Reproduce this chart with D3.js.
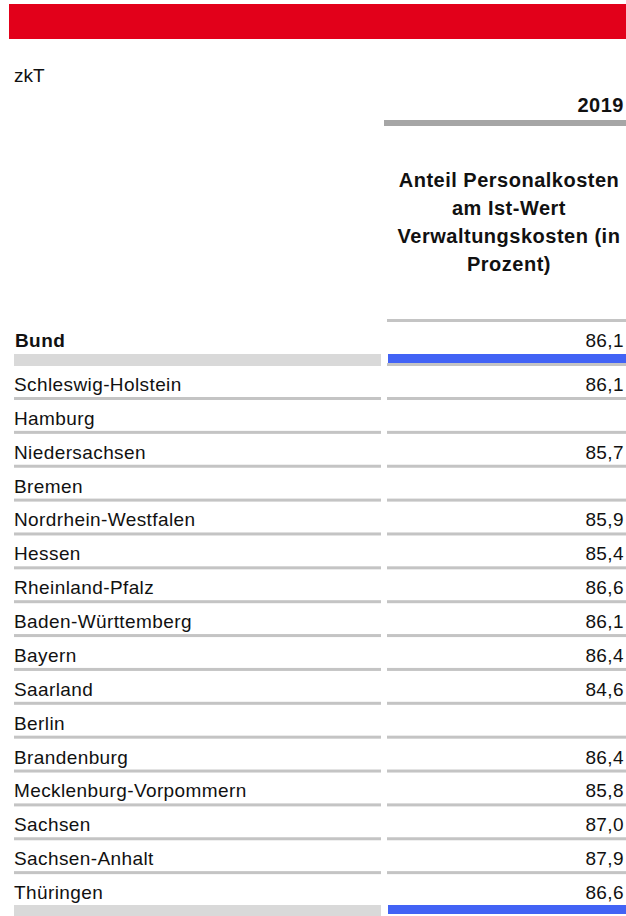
<!DOCTYPE html>
<html>
<head>
<meta charset="utf-8">
<script src="https://cdn.jsdelivr.net/npm/d3@7"></script>
<style>
  html, body { margin: 0; padding: 0; background: #fff; }
  svg { display: block; font-family: "Liberation Sans", Arial, Helvetica, sans-serif; }
</style>
</head>
<body>
<div id="chart"></div>
<script>
// data
const unit = "zkT";
const year = "2019";
const headerLines = ["Anteil Personalkosten", "am Ist-Wert", "Verwaltungskosten (in", "Prozent)"];
const totalLabel = "Bund";
const totalValue = 86.1;
const states = ["Schleswig-Holstein", "Hamburg", "Niedersachsen", "Bremen", "Nordrhein-Westfalen",
  "Hessen", "Rheinland-Pfalz", "Baden-Württemberg", "Bayern", "Saarland", "Berlin",
  "Brandenburg", "Mecklenburg-Vorpommern", "Sachsen", "Sachsen-Anhalt", "Thüringen"];
const stateValues = [86.1, null, 85.7, null, 85.9, 85.4, 86.6, 86.1, 86.4, 84.6, null,
  86.4, 85.8, 87.0, 87.9, 86.6];

const width = 626, height = 916;
const fmt = d3.formatLocale({ decimal: ",", thousands: ".", grouping: [3], currency: ["", " €"] }).format(".1f");

const svg = d3.select("#chart").append("svg")
  .attr("width", width)
  .attr("height", height);

// red top bar
svg.append("rect")
  .attr("x", 9).attr("y", 4)
  .attr("width", width - 9).attr("height", 35)
  .attr("fill", "#e2001a");

svg.append("text")
  .attr("x", 14).attr("y", 82)
  .attr("font-size", 19)
  .attr("fill", "#111")
  .text(unit);

// column positions
const labelX0 = 14, labelX1 = 381;
const valX0 = 387, valX1 = width;
const valRight = 624;
const rowFont = 19, rowSpacing = 0.4;

svg.append("text")
  .attr("x", valRight).attr("y", 112)
  .attr("text-anchor", "end")
  .attr("font-size", 20)
  .attr("letter-spacing", 0.5)
  .attr("font-weight", "bold")
  .attr("fill", "#111")
  .text(year);

svg.append("rect")
  .attr("x", 384).attr("y", 120)
  .attr("width", width - 384).attr("height", 6)
  .attr("fill", "#a6a6a6");

// column header
const header = svg.append("text")
  .attr("text-anchor", "middle")
  .attr("font-size", 20)
  .attr("letter-spacing", 0.5)
  .attr("font-weight", "bold")
  .attr("fill", "#111");
header.selectAll("tspan")
  .data(headerLines)
  .join("tspan")
  .attr("x", 509)
  .attr("y", (d, i) => 187 + i * 28)
  .text(d => d);

svg.append("rect")
  .attr("x", valX0).attr("y", 319)
  .attr("width", valX1 - valX0).attr("height", 3)
  .attr("fill", "#c4c4c4");

// Bund row
svg.append("text")
  .attr("x", 15).attr("y", 347)
  .attr("font-size", rowFont)
  .attr("letter-spacing", rowSpacing)
  .attr("font-weight", "bold")
  .attr("fill", "#111")
  .text(totalLabel);
svg.append("text")
  .attr("x", valRight).attr("y", 347)
  .attr("text-anchor", "end")
  .attr("font-size", rowFont)
  .attr("letter-spacing", rowSpacing)
  .attr("fill", "#111")
  .text(fmt(totalValue));
svg.append("rect")
  .attr("x", labelX0).attr("y", 354)
  .attr("width", labelX1 - labelX0).attr("height", 12)
  .attr("fill", "#d9d9d9");
svg.append("rect")
  .attr("x", valX0).attr("y", 363)
  .attr("width", valX1 - valX0).attr("height", 3)
  .attr("fill", "#c4c4c4");
svg.append("rect")
  .attr("x", valX0 + 1).attr("y", 354)
  .attr("width", valX1 - valX0 - 1).attr("height", 9)
  .attr("fill", "#4263f5");

// state rows: y of each row's bottom rule
const y = d3.scaleLinear()
  .domain([0, states.length - 1])
  .range([397, 905]);

const rows = svg.append("g")
  .selectAll("g")
  .data(states.map((s, i) => ({ name: s, value: stateValues[i], i })))
  .join("g")
  .attr("transform", d => `translate(0, ${y(d.i)})`);

rows.append("text")
  .attr("x", labelX0).attr("y", -6)
  .attr("font-size", rowFont)
  .attr("letter-spacing", rowSpacing)
  .attr("fill", "#111")
  .text(d => d.name);

rows.append("text")
  .attr("x", valRight).attr("y", -6)
  .attr("text-anchor", "end")
  .attr("font-size", rowFont)
  .attr("letter-spacing", rowSpacing)
  .attr("fill", "#111")
  .text(d => d.value == null ? "" : fmt(d.value));

const last = states.length - 1;

rows.append("rect")
  .attr("x", labelX0)
  .attr("width", labelX1 - labelX0)
  .attr("height", d => d.i === last ? 12 : 3)
  .attr("fill", d => d.i === last ? "#d9d9d9" : "#c4c4c4");

rows.append("rect")
  .attr("x", d => d.i === last ? valX0 + 1 : valX0)
  .attr("width", d => d.i === last ? valX1 - valX0 - 1 : valX1 - valX0)
  .attr("height", d => d.i === last ? 9 : 3)
  .attr("fill", d => d.i === last ? "#4263f5" : "#c4c4c4");
</script>
</body>
</html>
